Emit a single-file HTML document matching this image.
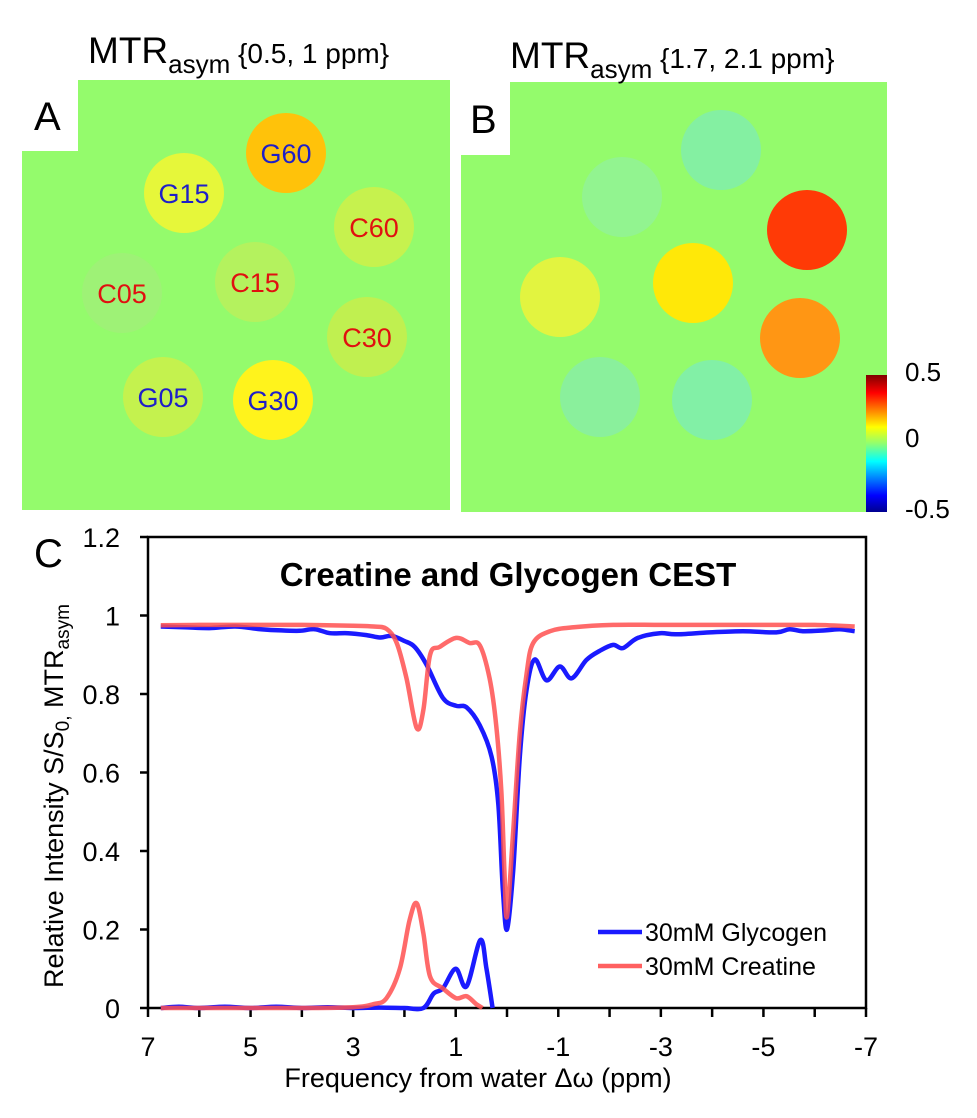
<!DOCTYPE html>
<html><head><meta charset="utf-8"><style>
html,body{margin:0;padding:0;background:#fff;}
svg{display:block;font-family:"Liberation Sans",sans-serif;}
</style></head><body>
<svg id="fig" width="977" height="1118" viewBox="0 0 977 1118">
<defs>
<linearGradient id="jet" x1="0" y1="1" x2="0" y2="0">
<stop offset="0" stop-color="#00008f"/><stop offset="0.12" stop-color="#0000ff"/><stop offset="0.37" stop-color="#00ffff"/>
<stop offset="0.5" stop-color="#90ff70"/><stop offset="0.62" stop-color="#ffff00"/><stop offset="0.87" stop-color="#ff0000"/><stop offset="1" stop-color="#7f0000"/>
</linearGradient>
</defs>
<g>
<rect x="22" y="80" width="428" height="430" fill="#94fb6c"/>
<rect x="22" y="80" width="56" height="71" fill="#fff"/>
<text x="34" y="130" font-size="40">A</text>
<text x="88" y="63" font-size="37">MTR<tspan font-size="26" dy="10">asym</tspan><tspan font-size="28" dy="-10"> {0.5, 1 ppm}</tspan></text>
<g id="blobsA"></g>
</g>
<g>
<rect x="461" y="82" width="426" height="430" fill="#94fb6c"/>
<rect x="461" y="82" width="49" height="73" fill="#fff"/>
<text x="470" y="133" font-size="40">B</text>
<text x="510" y="68" font-size="37">MTR<tspan font-size="26" dy="10">asym</tspan><tspan font-size="28" dy="-10"> {1.7, 2.1 ppm}</tspan></text>
<g id="blobsB"></g>
<rect x="866" y="375" width="21" height="137" fill="url(#jet)"/>
<text x="905" y="381" font-size="26">0.5</text>
<text x="905" y="447" font-size="26">0</text>
<text x="905" y="518" font-size="26">-0.5</text>
</g>
<g>
<text x="34" y="567" font-size="40">C</text>
<rect x="148" y="537" width="718" height="471" fill="none" stroke="#000" stroke-width="2.5"/>
<g id="yticks"></g><g id="xticks"></g>
<g id="series"></g>
<text x="508" y="586" font-size="33" font-weight="bold" text-anchor="middle">Creatine and Glycogen CEST</text>
<text transform="translate(63,796) rotate(-90)" font-size="27" text-anchor="middle">Relative Intensity S/S<tspan font-size="19" dy="6">0,</tspan><tspan dy="-6"> MTR</tspan><tspan font-size="19" dy="6">asym</tspan></text>
<text x="478" y="1087" font-size="27" text-anchor="middle">Frequency from water Δω (ppm)</text>
<g>
<line x1="598" y1="932" x2="642" y2="932" stroke="#1a1aff" stroke-width="4.5"/>
<text x="645" y="941" font-size="25">30mM Glycogen</text>
<line x1="598" y1="966" x2="642" y2="966" stroke="#ff6060" stroke-width="4.5"/>
<text x="645" y="975" font-size="25">30mM Creatine</text>
</g>
</g>
</svg>
<script>
const NS="http://www.w3.org/2000/svg";
const blobsAx=[286,184,374,122,255,367,163,273];
const blobsAy=[153,193,227,293,282,337,397,400];
const blobsAc=["#ffc20a","#e6f73a","#c6f24e","#9ef276","#b4f25e","#c0f050","#c4f24e","#fff31c"];
const blobsAlabel=["G60","G15","C60","C05","C15","C30","G05","G30"];
const blobsAlabelColor=["#1f1fc8","#1f1fc8","#e01010","#e01010","#e01010","#e01010","#1f1fc8","#1f1fc8"];
const blobsBx=[622,721,807,560,693,800,600,712];
const blobsBy=[197,150,230,297,283,338,397,400];
const blobsBc=["#92f490","#84f0a2","#ff3a06","#e2f440","#ffe808","#ff9614","#8af09c","#82f0a6"];
const yTicks=[0,0.2,0.4,0.6,0.8,1,1.2];
const yTickLabels=["0","0.2","0.4","0.6","0.8","1","1.2"];
const xTicks=[7,6,5,4,3,2,1,0,-1,-2,-3,-4,-5,-6,-7];
const xTickLabels=["7","5","3","1","-1","-3","-5","-7"];
const xLabelVals=[7,5,3,1,-1,-3,-5,-7];
const glyZx=[6.75,6.3,5.8,5.3,4.8,4.4,4.04,3.75,3.45,3.1,2.74,2.48,2.25,2.0,1.8,1.57,1.25,0.99,0.79,0.53,0.30,0.17,0.08,0,-0.12,-0.25,-0.38,-0.54,-0.77,-1.03,-1.26,-1.55,-1.81,-2.07,-2.26,-2.55,-2.98,-3.3,-3.95,-4.6,-5.25,-5.51,-5.77,-6.2,-6.49,-6.78];
const glyZy=[0.972,0.97,0.968,0.972,0.965,0.962,0.961,0.965,0.955,0.955,0.95,0.944,0.948,0.935,0.92,0.875,0.79,0.77,0.766,0.72,0.64,0.52,0.3,0.2,0.35,0.64,0.81,0.888,0.835,0.87,0.84,0.887,0.91,0.925,0.917,0.943,0.955,0.952,0.957,0.96,0.957,0.965,0.96,0.962,0.965,0.96];
const creZx=[6.75,6,5,4,3,2.6,2.35,2.15,1.96,1.76,1.63,1.5,1.31,0.99,0.73,0.53,0.34,0.21,0.11,0.05,0,-0.12,-0.25,-0.38,-0.51,-0.84,-1.3,-2.07,-3,-4,-5,-6,-6.78];
const creZy=[0.975,0.976,0.976,0.976,0.974,0.972,0.966,0.93,0.84,0.713,0.76,0.9,0.92,0.943,0.93,0.924,0.84,0.72,0.55,0.35,0.233,0.45,0.7,0.85,0.93,0.96,0.97,0.976,0.976,0.976,0.976,0.976,0.972];
const glyAx=[6.75,6.4,6.0,5.5,5.0,4.5,4.0,3.5,3.0,2.5,2.0,1.63,1.43,1.25,1.0,0.79,0.52,0.4,0.28];
const glyAy=[0,0.003,0,0.003,0,0.003,0,0.002,0,0.001,0,0,0.037,0.05,0.10,0.055,0.173,0.1,0];
const creAx=[6.75,6,5,4,3,2.6,2.35,2.09,1.9,1.76,1.63,1.5,1.25,0.99,0.79,0.6,0.48];
const creAy=[0,0,0,0,0.002,0.01,0.025,0.1,0.224,0.267,0.19,0.08,0.05,0.025,0.03,0.01,0];

const X0=148,X1=866,Y0=1008,Y1=537;
function sx(p){return X0+(7-p)/14*(X1-X0);}
function sy(v){return Y0-v/1.2*(Y0-Y1);}
function mk(tag,attrs,parent){const e=document.createElementNS(NS,tag);for(const k in attrs)e.setAttribute(k,attrs[k]);parent.appendChild(e);return e;}

const gA=document.getElementById('blobsA');
blobsAx.forEach((x,i)=>{
 const c=mk('circle',{cx:x,cy:blobsAy[i],r:40,fill:blobsAc[i]},gA);
 
 
 const t=mk('text',{x:x,y:blobsAy[i]+10,'font-size':27,'text-anchor':'middle',fill:blobsAlabelColor[i]},gA);
 t.textContent=blobsAlabel[i];
 
 
});
const gB=document.getElementById('blobsB');
blobsBx.forEach((x,i)=>{
 const c=mk('circle',{cx:x,cy:blobsBy[i],r:40,fill:blobsBc[i]},gB);
 
 
});
const gy=document.getElementById('yticks');
yTicks.forEach((v,i)=>{
 const l=mk('line',{x1:X0-8,x2:X0,y1:sy(v),y2:sy(v),stroke:'#000','stroke-width':2.5},gy);
 
 
 const t=mk('text',{x:X0-28,y:sy(v)+10,'font-size':27,'text-anchor':'end'},gy);
 t.textContent=yTickLabels[i];
 
 
});
const gx=document.getElementById('xticks');
xTicks.forEach(v=>{
 const l=mk('line',{x1:sx(v),x2:sx(v),y1:Y0,y2:Y0+9,stroke:'#000','stroke-width':2.5},gx);
 
 
});
xLabelVals.forEach((v,i)=>{
 const t=mk('text',{x:sx(v),y:1056,'font-size':27,'text-anchor':'middle'},gx);
 t.textContent=xTickLabels[i];
 
 
});
function pathD(xs,ys){
 const pts=xs.map((x,i)=>[sx(x),sy(ys[i])]);
 let d='M'+pts[0][0].toFixed(1)+','+pts[0][1].toFixed(1);
 for(let i=0;i<pts.length-1;i++){
  const p0=pts[i-1]||pts[i],p1=pts[i],p2=pts[i+1],p3=pts[i+2]||p2;
  const c1=[p1[0]+(p2[0]-p0[0])/6,p1[1]+(p2[1]-p0[1])/6];
  const c2=[p2[0]-(p3[0]-p1[0])/6,p2[1]-(p3[1]-p1[1])/6];
  d+=' C'+c1[0].toFixed(1)+','+c1[1].toFixed(1)+' '+c2[0].toFixed(1)+','+c2[1].toFixed(1)+' '+p2[0].toFixed(1)+','+p2[1].toFixed(1);
 }
 return d;
}
const gs=document.getElementById('series');
const p1=mk('path',{d:pathD(glyZx,glyZy),fill:'none',stroke:'#1a1aff','stroke-width':4.5,'stroke-linejoin':'round'},gs);


const p2=mk('path',{d:pathD(glyAx,glyAy),fill:'none',stroke:'#1a1aff','stroke-width':4.5,'stroke-linejoin':'round'},gs);


const p3=mk('path',{d:pathD(creZx,creZy),fill:'none',stroke:'#ff5050','stroke-opacity':0.85,'stroke-width':4.5,'stroke-linejoin':'round'},gs);


const p4=mk('path',{d:pathD(creAx,creAy),fill:'none',stroke:'#ff5050','stroke-opacity':0.85,'stroke-width':4.5,'stroke-linejoin':'round'},gs);


</script>
</body></html>
